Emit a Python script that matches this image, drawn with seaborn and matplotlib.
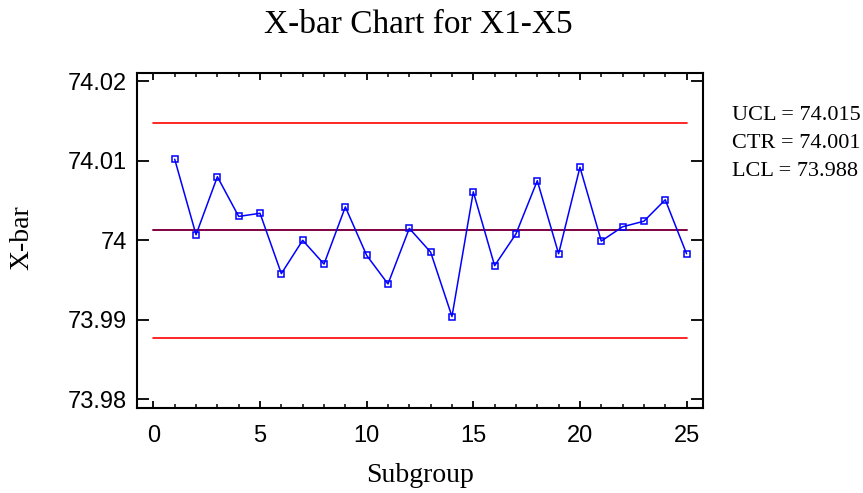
import numpy as np
import pandas as pd
import matplotlib
matplotlib.use("Agg")
import matplotlib.pyplot as plt
from matplotlib.ticker import MultipleLocator
import seaborn as sns

# data
subgroup = list(range(1, 26))
xbar = [74.0102, 74.0007, 74.0080, 74.0030, 74.0034, 73.9958, 74.0000, 73.9970,
        74.0042, 73.9981, 73.9945, 74.0015, 73.9985, 73.9904, 74.0061, 73.9968,
        74.0008, 74.0075, 73.9983, 74.0092, 73.9999, 74.0017, 74.0024, 74.0051,
        73.9983]
ucl = 74.01478
ctr = 74.00125
lcl = 73.98775
limit_labels = ["UCL = 74.015", "CTR = 74.001", "LCL = 73.988"]

df = pd.DataFrame({"Subgroup": subgroup, "X-bar": xbar})

sns.set_style("ticks")
plt.rcParams.update({"text.color": "black", "axes.labelcolor": "black",
                     "xtick.color": "black", "ytick.color": "black",
                     "axes.edgecolor": "black"})
serif = ["Liberation Serif", "DejaVu Serif"]
sans = ["Liberation Sans", "DejaVu Sans"]

fig = plt.figure(figsize=(8.63, 4.93), dpi=100)
ax = fig.add_axes([0.1587, 0.1724, 0.6559, 0.6795])

# control limits
ax.plot([0, 25], [ucl, ucl], color="#ff0000", lw=1.2, zorder=1)
ax.plot([0, 25], [lcl, lcl], color="#ff0000", lw=1.2, zorder=1)
ax.plot([0, 25], [ctr, ctr], color="#800040", lw=1.4, zorder=1)

sns.lineplot(data=df, x="Subgroup", y="X-bar", ax=ax, color="#0000ff", lw=1.1,
             marker="s", markersize=5, markerfacecolor="none",
             markeredgecolor="#0000ff", markeredgewidth=1.1, zorder=3)

ax.set_xlim(-0.77, 25.77)
ax.set_ylim(73.97888, 74.02106)
ax.set_xticks([0, 5, 10, 15, 20, 25])
ax.xaxis.set_minor_locator(MultipleLocator(1))
ax.set_yticks([73.98, 73.99, 74.0, 74.01, 74.02])
ax.set_yticklabels(["73.98", "73.99", "74", "74.01", "74.02"])

for s in ax.spines.values():
    s.set_linewidth(1.5)
    s.set_color("black")

ax.tick_params(axis="x", which="major", direction="in", length=5, width=1.3,
               top=True, bottom=True, pad=12)
ax.tick_params(axis="x", which="minor", direction="in", length=3, width=1.1,
               top=True, bottom=True)
ax.tick_params(axis="y", which="major", direction="in", length=8.5, width=1.3,
               left=True, right=True, pad=7)
for lab in ax.get_xticklabels() + ax.get_yticklabels():
    lab.set_family(sans)
    lab.set_fontsize(17)
    lab.set_color("black")

ax.set_xlabel("")
ax.set_ylabel("")

fig.text(0.485, 1 - 33 / 493, "X-bar Chart for X1-X5", ha="center", va="baseline",
         family=serif, fontsize=24, color="black")
fig.text(0.487, 1 - 482 / 493, "Subgroup", ha="center", va="baseline",
         family=serif, fontsize=20, color="black")
fig.text(22 / 863, 1 - 238 / 493, "X-bar", ha="center", va="center", rotation=90,
         family=serif, fontsize=20, color="black")

for i, t in enumerate(limit_labels):
    fig.text(732 / 863, 1 - (115 + 28.5 * i) / 493, t, ha="left", va="center",
             family=serif, fontsize=16, color="black")

fig.savefig("out.png", dpi=100)
